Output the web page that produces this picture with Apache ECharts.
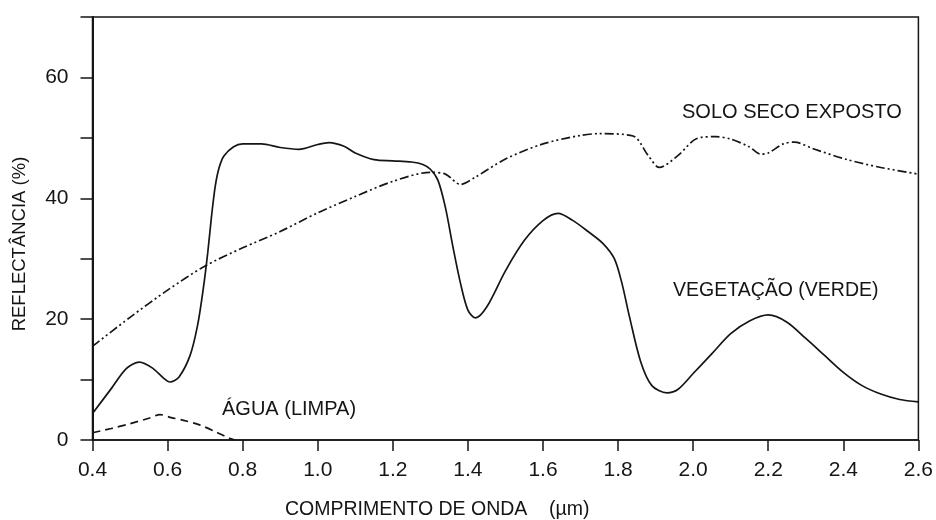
<!DOCTYPE html>
<html>
<head>
<meta charset="utf-8">
<script src="https://cdn.jsdelivr.net/npm/echarts@6/dist/echarts.min.js"></script>
<style>
html,body{margin:0;padding:0;background:#fff;}
#chart{width:936px;height:520px;}
</style>
</head>
<body>
<div id="chart"></div>
<script>
// Vegetation (green) reflectance
var vegX = [0.40,0.45,0.49,0.525,0.56,0.59,0.606,0.63,0.66,0.68,0.695,0.707,0.717,0.727,0.737,0.75,0.775,0.80,0.85,0.90,0.95,1.00,1.03,1.07,1.10,1.15,1.20,1.25,1.28,1.30,1.32,1.34,1.36,1.38,1.40,1.42,1.45,1.50,1.55,1.60,1.64,1.68,1.72,1.76,1.79,1.81,1.83,1.86,1.89,1.93,1.96,2.00,2.05,2.10,2.15,2.20,2.25,2.30,2.35,2.40,2.45,2.50,2.55,2.60];
var vegY = [4.4,8.5,11.8,12.9,11.9,10.2,9.6,10.4,14,19,25,31,37,42,45,47,48.5,49,49,48.4,48.1,48.9,49.2,48.6,47.5,46.4,46.2,46,45.6,44.8,43,38.5,32,26,21.5,20.2,22,28,33,36.3,37.5,36.3,34.5,32.5,30,26,20.5,13,9,7.8,8.4,11,14.3,17.6,19.7,20.7,19.5,16.8,14,11.2,9,7.6,6.7,6.3];
// Dry exposed soil
var soilX = [0.40,0.50,0.60,0.70,0.80,0.90,1.00,1.10,1.20,1.30,1.34,1.38,1.42,1.50,1.60,1.70,1.75,1.84,1.88,1.91,1.96,2.01,2.06,2.10,2.15,2.18,2.20,2.24,2.27,2.32,2.41,2.50,2.60];
var soilY = [15.5,20.3,24.8,28.8,31.8,34.5,37.6,40.3,42.8,44.3,44,42.3,43.5,46.5,49,50.4,50.7,50.3,47.1,45.1,47.1,49.9,50.2,49.8,48.5,47.3,47.5,49,49.3,48.2,46.4,45.1,44];
// Clear water
var waterX = [0.40,0.45,0.50,0.55,0.58,0.61,0.64,0.685,0.73,0.765,0.78];
var waterY = [1.2,1.9,2.7,3.6,4.2,3.7,3.3,2.5,1.3,0.3,0];
// Tick labels
var yTickLabels = [0,20,40,60];
var seriesLabels = ['SOLO SECO EXPOSTO','VEGETAÇÃO (VERDE)','ÁGUA (LIMPA)'];
var xTitle = 'COMPRIMENTO DE ONDA';
var xUnit = '(µm)';
var yTitle = 'REFLECTÂNCIA (%)';

function zip(a,b){return a.map(function(v,i){return [v,b[i]];});}
var FONT = 'Liberation Sans, Arial, Helvetica, sans-serif';
var INK = '#151515';

var chart = echarts.init(document.getElementById('chart'), null, {renderer:'canvas'});
chart.setOption({
  animation:false,
  backgroundColor:'#ffffff',
  grid:{left:92.5,right:14,top:17,bottom:80,show:true,borderColor:INK,borderWidth:1.5,backgroundColor:'transparent'},
  xAxis:{
    type:'value',min:0.4,max:2.6,interval:0.2,
    axisLine:{show:true,lineStyle:{color:INK,width:1.5}},
    axisTick:{show:true,inside:false,length:11,lineStyle:{color:INK,width:1.5}},
    axisLabel:{color:INK,fontSize:21,fontFamily:FONT,margin:20,
      formatter:function(v){return (Math.round(v*10)/10).toFixed(1);}},
    splitLine:{show:false}
  },
  yAxis:{
    type:'value',min:0,max:70,interval:10,
    axisLine:{show:true,lineStyle:{color:INK,width:2}},
    axisTick:{show:true,inside:false,length:12,lineStyle:{color:INK,width:1.5}},
    axisLabel:{color:INK,fontSize:21,fontFamily:FONT,margin:24,
      formatter:function(v){var r=Math.round(v);return yTickLabels.indexOf(r)>=0?String(r):'';}},
    splitLine:{show:false}
  },
  series:[
    {type:'line',name:seriesLabels[1],data:zip(vegX,vegY),smooth:0.3,symbol:'none',
      lineStyle:{color:INK,width:1.7,type:'solid'}},
    {type:'line',name:seriesLabels[0],data:zip(soilX,soilY),smooth:0.3,symbol:'none',
      lineStyle:{color:INK,width:1.7,type:[9,3,2,3,2,3]}},
    {type:'line',name:seriesLabels[2],data:zip(waterX,waterY),smooth:0.3,symbol:'none',
      lineStyle:{color:INK,width:1.7,type:[8,5]}}
  ],
  graphic:[
    {type:'text',left:682,top:102,style:{text:seriesLabels[0],fill:INK,font:'20px '+FONT}},
    {type:'text',left:673,top:281,style:{text:seriesLabels[1],fill:INK,font:'19.5px '+FONT}},
    {type:'text',left:222,top:399,style:{text:seriesLabels[2],fill:INK,font:'20px '+FONT}},
    {type:'text',left:285,top:500,style:{text:xTitle,fill:INK,font:'19.5px '+FONT}},
    {type:'text',left:549,top:500,style:{text:xUnit,fill:INK,font:'19.5px '+FONT}},
    {type:'text',x:20,y:244,rotation:Math.PI/2,style:{text:yTitle,fill:INK,font:'18.5px '+FONT,align:'center',verticalAlign:'middle'}}
  ]
});
</script>
</body>
</html>
